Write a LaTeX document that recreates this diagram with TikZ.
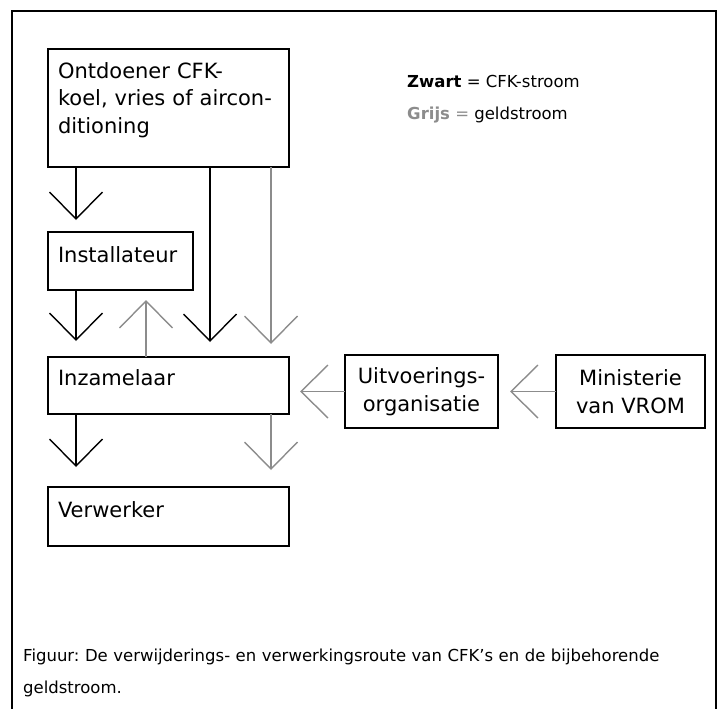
\documentclass[tikz,border=0pt]{standalone}
\usepackage{fontspec}
\setmainfont{DejaVu Sans}
\frenchspacing
\usetikzlibrary{arrows.meta}

\definecolor{geld}{RGB}{140,140,140}

\tikzset{
  box/.style={draw, line width=2.8pt, outer sep=0pt, anchor=north west,
    inner xsep=10pt, inner ysep=0pt, align=left,
    font=\fontsize{21}{27.5}\selectfont},
  midbox/.style={draw, line width=2.8pt, outer sep=0pt, anchor=north west,
    inner sep=0pt, align=center, font=\fontsize{21}{28}\selectfont},
  cfk/.style={line width=1.4pt, -{Straight Barb[length=27pt,width=53pt]}},
  geldpijl/.style={cfk, draw=geld},
}

\begin{document}
\begin{tikzpicture}[x=1pt,y=-1pt]
        \useasboundingbox (0,0) rectangle (723,709);
        \draw [line width=2.8pt] (12,709) -- (12,11) -- (716,11) -- (716,709);

        \node (ontd) [box, text width=221pt, text height=29pt, text depth=89pt] at (48,49)
          {Ontdoener CFK-\\koel, vries of aircon-\\ditioning};
        \node (inst) [box, text width=125pt, text height=30pt, text depth=28pt] at (48,232) {Installateur};
        \node (inzam) [box, text width=221pt, text height=28pt, text depth=29pt] at (48,357) {Inzamelaar};
        \node (verw) [box, text width=221pt, text height=30pt, text depth=29pt] at (48,487) {Verwerker};
        \node (uitv) [midbox, minimum width=153pt, minimum height=73pt] at (345,355) {Uitvoerings-\\organisatie};
        \node (minis) [midbox, minimum width=149pt, minimum height=73pt] at (556,355) {Ministerie\\van VROM};

        \node (zwart) [anchor=base west, inner sep=0pt, font=\fontsize{16.5}{20}\selectfont] at (407,88)
          {\textbf{Zwart} = CFK-stroom};
        \node (grijs) [anchor=base west, inner sep=0pt, font=\fontsize{16.5}{20}\selectfont] at (407,119)
          {\textcolor{geld}{\textbf{Grijs} =} geldstroom};

        \draw [cfk, shorten >=12pt] ([xshift=28pt]ontd.south west) -- ([xshift=28pt]inst.north west);
        \draw [cfk, shorten >=15pt] ([xshift=162pt]ontd.south west) -- ([xshift=162pt]inzam.north west);
        \draw [geldpijl, shorten >=13pt] ([xshift=223pt]ontd.south west) -- ([xshift=223pt]inzam.north west);
        \draw [cfk, shorten >=16pt] ([xshift=28pt]inst.south west) -- ([xshift=28pt]inzam.north west);
        \draw [geldpijl, shorten >=10pt] ([xshift=98pt]inzam.north west) -- ([xshift=98pt]inst.south west);
        \draw [cfk, shorten >=20pt] ([xshift=28pt]inzam.south west) -- ([xshift=28pt]verw.north west);
        \draw [geldpijl, shorten >=17pt] ([xshift=223pt]inzam.south west) -- ([xshift=223pt]verw.north west);
        \draw [geldpijl, shorten >=12pt] (minis.west) -- (uitv.east);
        \draw [geldpijl, shorten >=11pt] (uitv.west) -- (uitv.west -| inzam.east);

        \node (caption) [anchor=base west, inner sep=0pt, text width=690pt, align=left,
          font=\fontsize{16.5}{32}\selectfont] at (23,661)
          {Figuur: De verwijderings- en verwerkingsroute van CFK's en de bijbehorende\\geldstroom.};
    \end{tikzpicture}
\end{document}
